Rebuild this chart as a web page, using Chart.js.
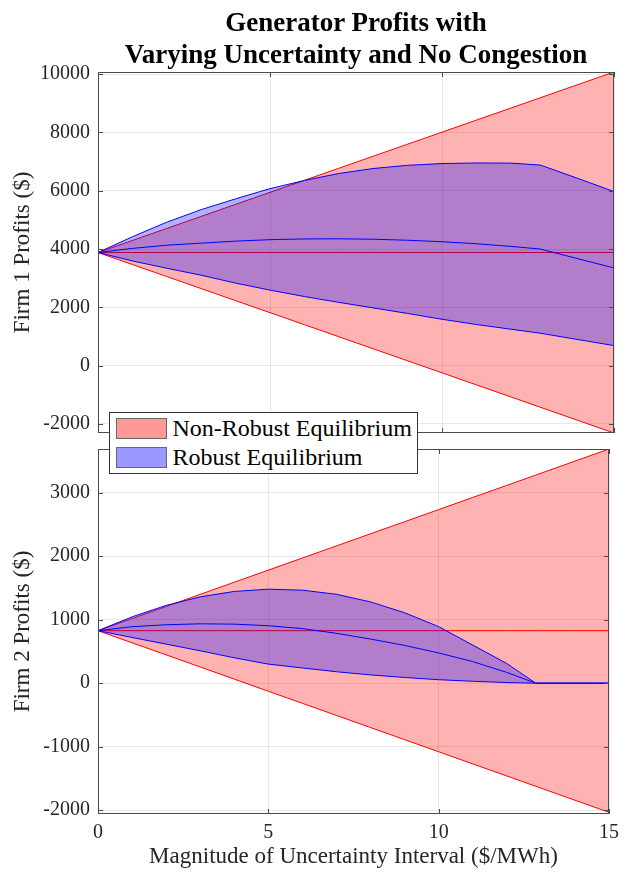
<!DOCTYPE html>
<html>
<head>
<meta charset="utf-8">
<script src="https://cdn.jsdelivr.net/npm/chart.js@4.4.1/dist/chart.umd.min.js"></script>
<style>
  body { margin: 0; background: #fff; }
  #wrap { position: relative; width: 626px; height: 873px; font-family: "Liberation Serif", "Times New Roman", serif; }
  #title { position: absolute; left: 98px; top: 6px; width: 516px; text-align: center; font-weight: bold; font-size: 27px; line-height: 32px; color: #000; z-index: 3; white-space: nowrap; }
  #firm1 { position: absolute; left: 0; top: 0; }
  #firm2 { position: absolute; left: 0; top: 441px; }
  #legend { position: absolute; left: 109px; top: 412px; width: 309px; height: 62px; box-sizing: border-box;
            border: 1px solid #333; background: #fff; padding: 5px 0 0 6px; z-index: 4; }
  .row { display: flex; align-items: flex-start; height: 28.5px; }
  .patch { width: 49px; height: 19px; border: 1px solid #666; margin-right: 5.5px; }
  .lbl { font-size: 24px; line-height: 21px; color: #000; white-space: nowrap; }
</style>
</head>
<body>
<div id="wrap">
  <div id="title">Generator Profits with<br>Varying Uncertainty and No Congestion</div>
  <canvas id="firm1" width="626" height="441"></canvas>
  <canvas id="firm2" width="626" height="432"></canvas>
  <div id="legend"></div>
</div>
<script>
// uncertainty interval magnitude ($/MWh)
const uncertainty = [0, 1, 2, 3, 4, 5, 6, 7, 8, 9, 10, 11, 12, 12.85, 13, 14, 15];

// firm 1 profits ($)
const nonRobust1Hi  = [3880, 4293, 4705, 5118, 5531, 5944, 6356, 6769, 7182, 7594, 8007, 8420, 8832, 9183, 9245, 9658, 10070];
const nonRobust1Mid = [3880, 3880, 3880, 3880, 3880, 3880, 3880, 3880, 3880, 3880, 3880, 3880, 3880, 3880, 3880, 3880, 3880];
const nonRobust1Lo  = [3880, 3467, 3055, 2642, 2229, 1817, 1404, 991, 578, 166, -247, -660, -1072, -1423, -1485, -1898, -2310];
const robust1Hi  = [3880, 4420, 4920, 5350, 5720, 6070, 6350, 6590, 6760, 6870, 6930, 6950, 6945, 6880, 6820, 6400, 5970];
const robust1Mid = [3880, 4020, 4130, 4200, 4270, 4320, 4345, 4350, 4335, 4300, 4250, 4180, 4090, 4000, 3955, 3652, 3350];
const robust1Lo  = [3880, 3590, 3340, 3100, 2830, 2590, 2370, 2170, 1980, 1790, 1590, 1410, 1250, 1113, 1083, 885, 688];

// firm 2 profits ($)
const nonRobust2Hi  = [827, 1018, 1208, 1399, 1590, 1781, 1971, 2162, 2353, 2543, 2734, 2925, 3115, 3277, 3306, 3497, 3688];
const nonRobust2Mid = [827, 827, 827, 827, 827, 827, 827, 827, 827, 827, 827, 827, 827, 827, 827, 827, 827];
const nonRobust2Lo  = [827, 636, 446, 255, 64, -127, -317, -508, -699, -889, -1080, -1271, -1461, -1624, -1652, -1843, -2034];
const robust2Hi  = [827, 1045, 1225, 1360, 1445, 1480, 1465, 1400, 1280, 1110, 890, 600, 310, 0, 0, 0, 0];
const robust2Mid = [827, 890, 920, 935, 930, 905, 860, 785, 695, 595, 476, 340, 170, 0, 0, 0, 0];
const robust2Lo  = [827, 720, 615, 510, 400, 300, 240, 180, 130, 90, 55, 30, 10, 0, 0, 0, 0];

// tick positions
const xTicks = [0, 5, 10, 15];
const yTicks1 = [-2000, 0, 2000, 4000, 6000, 8000, 10000];
const yTicks2 = [-2000, -1000, 0, 1000, 2000, 3000];

const FONT = '"Liberation Serif", "Times New Roman", serif';
const TXT = '#262626';
const GRID = 'rgba(0,0,0,0.09)';

function pts(ys) {
  return uncertainty.map((x, i) => ({ x: x, y: ys[i] }));
}

// upper/lower edges filled between, plus the middle line
function band(label, hi, mid, lo, edge, face, legendFace, order) {
  const base = { borderColor: edge, borderWidth: 1, pointRadius: 0, tension: 0, order: order };
  return [
    Object.assign({ label: label, data: pts(hi), fill: '+1', backgroundColor: face, legendFace: legendFace }, base),
    Object.assign({ label: '', data: pts(lo), fill: false }, base),
    Object.assign({ label: '', data: pts(mid), fill: false }, base)
  ];
}

// box around the axes with inward tick marks
const frame = {
  id: 'frame',
  afterDraw(chart) {
    const { ctx, chartArea: a, scales } = chart;
    ctx.save();
    ctx.strokeStyle = '#4a4a4a';
    ctx.lineWidth = 1;
    ctx.strokeRect(a.left + 0.5, a.top + 0.5, a.width - 1, a.height - 1);
    ctx.beginPath();
    scales.y.ticks.forEach(t => {
      const py = Math.round(scales.y.getPixelForValue(t.value)) + 0.5;
      ctx.moveTo(a.left, py); ctx.lineTo(a.left + 5, py);
      ctx.moveTo(a.right, py); ctx.lineTo(a.right - 5, py);
    });
    scales.x.ticks.forEach(t => {
      const px = Math.round(scales.x.getPixelForValue(t.value)) + 0.5;
      ctx.moveTo(px, a.bottom); ctx.lineTo(px, a.bottom - 5);
      ctx.moveTo(px, a.top); ctx.lineTo(px, a.top + 5);
    });
    ctx.stroke();
    ctx.restore();
  }
};

function makeChart(id, sets, yMin, yMax, yTicks, yTitle, showX, pad) {
  return new Chart(document.getElementById(id), {
    type: 'line',
    data: { datasets: sets },
    plugins: [frame],
    options: {
      responsive: false,
      animation: false,
      layout: { padding: pad },
      plugins: { legend: { display: false }, tooltip: { enabled: false } },
      scales: {
        x: {
          type: 'linear', min: 0, max: 15, z: 1,
          afterBuildTicks: s => { s.ticks = xTicks.map(v => ({ value: v })); },
          afterFit: s => { s.height = showX ? 59 : 0; },
          ticks: { display: showX, padding: 7, color: TXT, font: { family: FONT, size: 20 }, maxRotation: 0 },
          grid: { color: GRID, drawTicks: false },
          border: { display: false },
          title: { display: showX, text: 'Magnitude of Uncertainty Interval ($/MWh)', color: TXT,
                   font: { family: FONT, size: 23 }, padding: { top: 0, bottom: 2 } }
        },
        y: {
          type: 'linear', min: yMin, max: yMax, z: 1,
          afterBuildTicks: s => { s.ticks = yTicks.map(v => ({ value: v })); },
          afterFit: s => { s.width = 98; s.paddingTop = 0; s.paddingBottom = 0; },
          ticks: { padding: 8, color: TXT, font: { family: FONT, size: 20 }, callback: v => String(v) },
          grid: { color: GRID, drawTicks: false },
          border: { display: false },
          title: { display: true, text: yTitle, color: TXT, font: { family: FONT, size: 23 },
                   padding: { top: 9, bottom: 0 } }
        }
      }
    }
  });
}

const RED = 'rgb(255,0,0)', RED_FACE = 'rgba(255,0,0,0.3)', RED_KEY = 'rgb(255,153,153)';
const BLUE = 'rgb(0,0,255)', BLUE_FACE = 'rgba(0,0,255,0.3)', BLUE_KEY = 'rgb(153,153,255)';

const chart1 = makeChart('firm1', [
  ...band('Non-Robust Equilibrium', nonRobust1Hi, nonRobust1Mid, nonRobust1Lo, RED, RED_FACE, RED_KEY, 2),
  ...band('Robust Equilibrium', robust1Hi, robust1Mid, robust1Lo, BLUE, BLUE_FACE, BLUE_KEY, 1)
], -2310, 10070, yTicks1, 'Firm 1 Profits ($)', false, { top: 72, right: 12, bottom: 8, left: 0 });

const chart2 = makeChart('firm2', [
  ...band('Non-Robust Equilibrium', nonRobust2Hi, nonRobust2Mid, nonRobust2Lo, RED, RED_FACE, RED_KEY, 2),
  ...band('Robust Equilibrium', robust2Hi, robust2Mid, robust2Lo, BLUE, BLUE_FACE, BLUE_KEY, 1)
], -2060, 3688, yTicks2, 'Firm 2 Profits ($)', true, { top: 8, right: 12, bottom: 0, left: 0 });

// shared legend sitting between the two panels
const legend = document.getElementById('legend');
chart1.data.datasets.filter(d => d.label).forEach(d => {
  const row = document.createElement('div');
  row.className = 'row';
  row.innerHTML = '<div class="patch" style="background:' + d.legendFace + '"></div><span class="lbl">' + d.label + '</span>';
  legend.appendChild(row);
});
</script>
</body>
</html>
